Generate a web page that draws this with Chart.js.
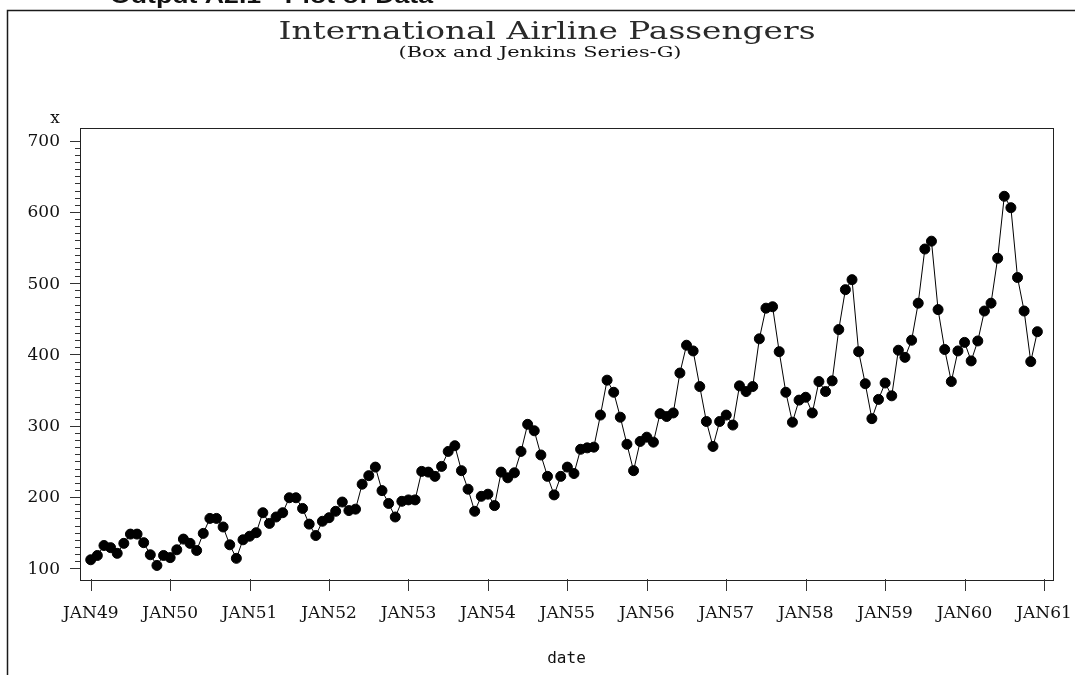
<!DOCTYPE html>
<html>
<head>
<meta charset="utf-8">
<script src="https://cdn.jsdelivr.net/npm/chart.js@4.4.1/dist/chart.umd.min.js"></script>
<style>
  html, body { margin: 0; padding: 0; background: #fff; }
  #wrap { width: 1075px; height: 675px; position: relative; }
</style>
</head>
<body>
<div id="wrap"><canvas id="c" width="1075" height="675"></canvas></div>
<script>
// Monthly international airline passengers (thousands), Jan 1949 - Dec 1960
const y1949 = [112, 118, 132, 129, 121, 135, 148, 148, 136, 119, 104, 118];
const y1950 = [115, 126, 141, 135, 125, 149, 170, 170, 158, 133, 114, 140];
const y1951 = [145, 150, 178, 163, 172, 178, 199, 199, 184, 162, 146, 166];
const y1952 = [171, 180, 193, 181, 183, 218, 230, 242, 209, 191, 172, 194];
const y1953 = [196, 196, 236, 235, 229, 243, 264, 272, 237, 211, 180, 201];
const y1954 = [204, 188, 235, 227, 234, 264, 302, 293, 259, 229, 203, 229];
const y1955 = [242, 233, 267, 269, 270, 315, 364, 347, 312, 274, 237, 278];
const y1956 = [284, 277, 317, 313, 318, 374, 413, 405, 355, 306, 271, 306];
const y1957 = [315, 301, 356, 348, 355, 422, 465, 467, 404, 347, 305, 336];
const y1958 = [340, 318, 362, 348, 363, 435, 491, 505, 404, 359, 310, 337];
const y1959 = [360, 342, 406, 396, 420, 472, 548, 559, 463, 407, 362, 405];
const y1960 = [417, 391, 419, 461, 472, 535, 622, 606, 508, 461, 390, 432];

const passengers = [].concat(y1949, y1950, y1951, y1952, y1953, y1954,
                             y1955, y1956, y1957, y1958, y1959, y1960);

// Axis ticks: x in months since Jan 1949, y in passengers
const xTickLabels = ['JAN49','JAN50','JAN51','JAN52','JAN53','JAN54','JAN55',
                     'JAN56','JAN57','JAN58','JAN59','JAN60','JAN61'];
const yMajorTicks = [100, 200, 300, 400, 500, 600, 700];

const points = passengers.map((v, i) => ({ x: i, y: v }));

const SERIF = '"DejaVu Serif", "Liberation Serif", serif';

function drawFitted(ctx, text, font, cx, baseline, targetW) {
  ctx.save();
  ctx.font = font;
  const w = ctx.measureText(text).width;
  const s = targetW / w;
  ctx.translate(cx, baseline);
  ctx.scale(s, 1);
  ctx.textAlign = 'center';
  ctx.textBaseline = 'alphabetic';
  ctx.fillText(text, 0, 0);
  ctx.restore();
}

const decor = {
  id: 'decor',
  beforeDraw(chart) {
    const ctx = chart.ctx;
    ctx.save();
    ctx.fillStyle = '#fff';
    ctx.fillRect(0, 0, chart.width, chart.height);
    // outer frame (left and top edges)
    ctx.strokeStyle = '#1a1a1a';
    ctx.lineWidth = 1.5;
    ctx.beginPath();
    ctx.moveTo(7.5, 675);
    ctx.lineTo(7.5, 10.5);
    ctx.lineTo(1075, 10.5);
    ctx.stroke();
    // page header, partly above the top edge
    ctx.fillStyle = '#111';
    ctx.font = 'bold 22px "Liberation Sans", Arial, sans-serif';
    ctx.textAlign = 'left';
    ctx.textBaseline = 'alphabetic';
    const hdr = 'Output A2.1 - Plot of Data';
    const hw = ctx.measureText(hdr).width;
    ctx.save();
    ctx.translate(110, 3);
    ctx.scale(323 / hw, 1);
    ctx.fillText(hdr, 0, 0);
    ctx.restore();
    // titles
    ctx.fillStyle = '#2a2a2a';
    drawFitted(ctx, 'International Airline Passengers', '24px ' + SERIF, 547, 39, 537);
    ctx.fillStyle = '#111';
    drawFitted(ctx, '(Box and Jenkins Series-G)', '15px ' + SERIF, 540, 57, 283);
    ctx.restore();
  },
  afterDraw(chart) {
    const ctx = chart.ctx;
    const a = chart.chartArea;
    const xs = chart.scales.x, ys = chart.scales.y;
    ctx.save();
    // plot box
    ctx.strokeStyle = '#222';
    ctx.lineWidth = 1;
    ctx.strokeRect(Math.round(a.left) + 0.5, Math.round(a.top) + 0.5,
                   Math.round(a.right - a.left), Math.round(a.bottom - a.top));
    // y ticks: major every 100, minor every 10
    ctx.beginPath();
    for (let v = 100; v <= 700; v += 10) {
      const py = Math.round(ys.getPixelForValue(v)) + 0.5;
      const len = (v % 100 === 0) ? 10 : 5;
      ctx.moveTo(a.left, py);
      ctx.lineTo(a.left - len, py);
    }
    // x ticks at each January
    xTickLabels.forEach((_, k) => {
      const px = Math.round(xs.getPixelForValue(k * 12)) + 0.5;
      ctx.moveTo(px, a.bottom);
      ctx.lineTo(px, a.bottom + 12);
    });
    ctx.strokeStyle = '#333';
    ctx.stroke();
    // tick labels
    ctx.fillStyle = '#111';
    ctx.font = '17px ' + SERIF;
    ctx.textAlign = 'right';
    ctx.textBaseline = 'middle';
    yMajorTicks.forEach(v => {
      ctx.fillText(String(v), a.left - 20, ys.getPixelForValue(v) + 1);
    });
    ctx.textAlign = 'center';
    xTickLabels.forEach((lab, k) => {
      ctx.fillText(lab, xs.getPixelForValue(k * 12), a.bottom + 35);
    });
    // axis names
    ctx.font = '16px "DejaVu Sans Mono", monospace';
    ctx.fillText('date', (a.left + a.right) / 2, 659);
    ctx.font = '17px ' + SERIF;
    ctx.fillText('x', 55, 119);
    ctx.restore();
  }
};

new Chart(document.getElementById('c'), {
  type: 'line',
  data: {
    datasets: [{
      data: points,
      borderColor: '#000',
      borderWidth: 1,
      backgroundColor: '#000',
      pointBackgroundColor: '#000',
      pointBorderColor: '#000',
      pointRadius: 5,
      pointBorderWidth: 1,
      tension: 0,
      fill: false,
      clip: false
    }]
  },
  options: {
    responsive: false,
    animation: false,
    devicePixelRatio: 1,
    layout: { padding: { left: 80, top: 127.5, right: 22, bottom: 96 } },
    plugins: { legend: { display: false }, tooltip: { enabled: false }, title: { display: false } },
    scales: {
      x: { type: 'linear', display: false, min: -1.62, max: 145.36 },
      y: { type: 'linear', display: false, min: 85.0, max: 718.5 }
    }
  },
  plugins: [decor]
});
</script>
</body>
</html>
